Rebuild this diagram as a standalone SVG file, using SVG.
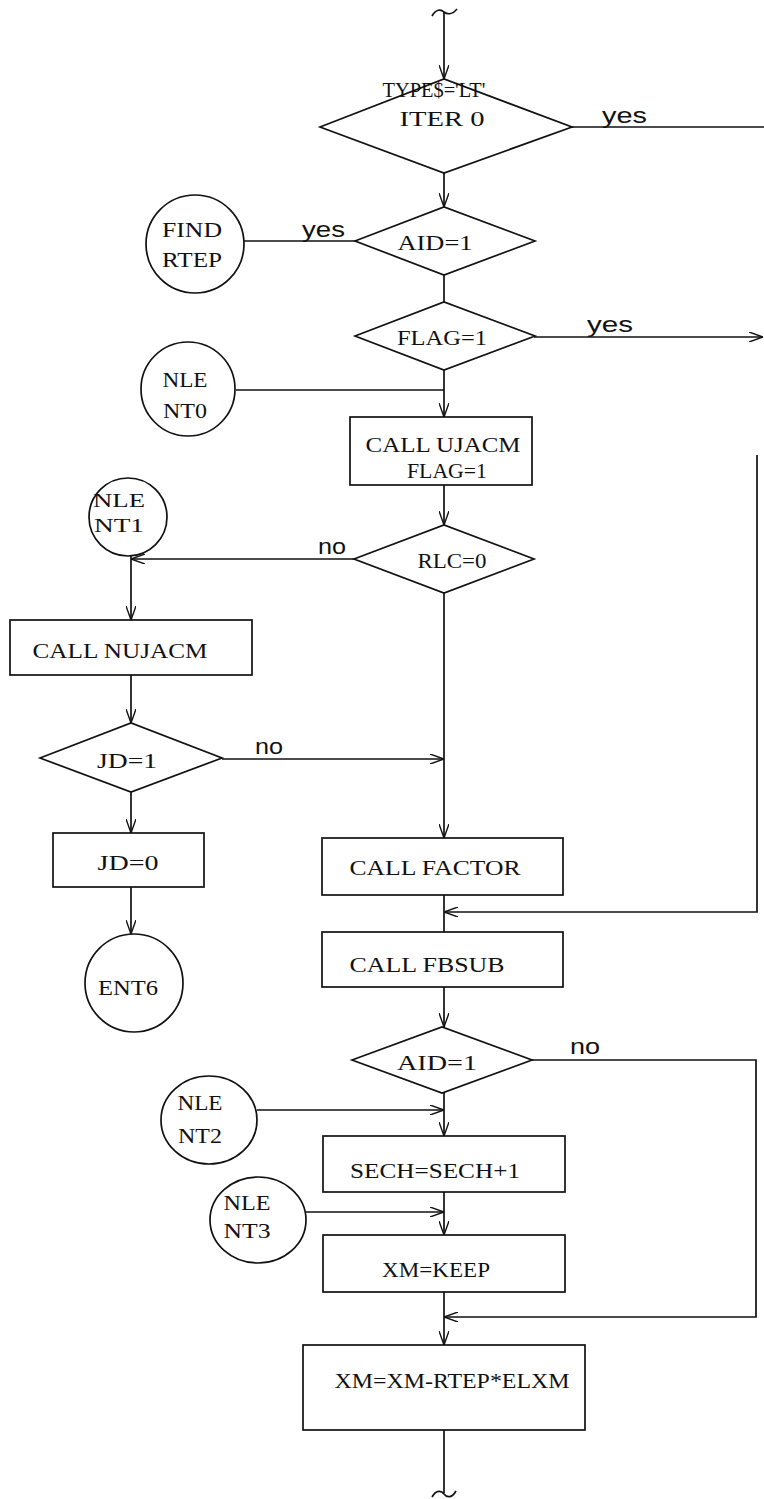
<svg xmlns="http://www.w3.org/2000/svg" width="764" height="1499" viewBox="0 0 764 1499">
<defs>
<marker id="ah" viewBox="0 0 14 10" refX="14" refY="5" markerWidth="14" markerHeight="10" markerUnits="userSpaceOnUse" orient="auto">
<path d="M0,0 L14,5 L0,10" fill="none" stroke="#111" stroke-width="1.4"/>
</marker>
</defs>
<style>
.s{fill:#fff;stroke:#111;stroke-width:1.7}
.c{fill:none;stroke:#111;stroke-width:1.7}
.a{marker-end:url(#ah)}
.t{font-family:"Liberation Serif","DejaVu Serif",serif;font-size:22px;fill:#111;text-anchor:middle}
.m{font-size:20px}
.k{font-size:19px}
.l{font-family:"Liberation Sans","DejaVu Sans",sans-serif;font-size:22px;fill:#111}
</style>
<rect width="764" height="1499" fill="#fff"/>
<g id="connectors">
<path class="c" d="M432,16 C436,9 441,9 444,12 C448,15 453,14 457,9"/>
<path class="c a" d="M444,12 V79"/>
<path class="c" d="M572,127 H764"/>
<path class="c a" d="M444,173 V207"/>
<path class="c" d="M244,241 H355"/>
<path class="c" d="M444,275 V302"/>
<path class="c a" d="M534,337 H763"/>
<path class="c a" d="M444,370 V417"/>
<path class="c" d="M236,390 H444"/>
<path class="c a" d="M444,485 V525"/>
<path class="c a" d="M354,559 H131"/>
<path class="c a" d="M131,556 V620"/>
<path class="c a" d="M131,675 V723"/>
<path class="c a" d="M222,759 H444"/>
<path class="c a" d="M131,792 V833"/>
<path class="c a" d="M131,887 V934"/>
<path class="c a" d="M444,593 V838"/>
<path class="c" d="M444,895 V932"/>
<path class="c a" d="M757,455 V912 H444"/>
<path class="c a" d="M444,987 V1027"/>
<path class="c a" d="M532,1060 H756 V1317 H444"/>
<path class="c a" d="M444,1093 V1136"/>
<path class="c a" d="M257,1110 H444"/>
<path class="c a" d="M444,1192 V1235"/>
<path class="c a" d="M306,1212 H444"/>
<path class="c a" d="M444,1292 V1345"/>
<path class="c" d="M444,1430 V1493"/>
<path class="c" d="M432,1497 C436,1490 441,1490 444,1494 C447,1498 452,1498 456,1491"/>
<text class="l" x="602" y="123" textLength="45" lengthAdjust="spacingAndGlyphs">yes</text>
<text class="l" x="302" y="237" textLength="43" lengthAdjust="spacingAndGlyphs">yes</text>
<text class="l" x="587" y="332" textLength="46" lengthAdjust="spacingAndGlyphs">yes</text>
<text class="l" x="318" y="554" textLength="28" lengthAdjust="spacingAndGlyphs">no</text>
<text class="l" x="255" y="754" textLength="28" lengthAdjust="spacingAndGlyphs">no</text>
<text class="l" x="570" y="1054" textLength="30" lengthAdjust="spacingAndGlyphs">no</text>
</g>
<g id="n_type">
<polygon class="s" points="320,127 444,79 572,127 444,173"/>
<text class="t m" x="434" y="97" textLength="103" lengthAdjust="spacingAndGlyphs">TYPE$='LT'</text>
<text class="t m" x="442" y="126" textLength="85" lengthAdjust="spacingAndGlyphs">ITER  0</text>
</g>
<g id="n_aid1">
<polygon class="s" points="355,241 444,207 535,241 444,275"/>
<text class="t" x="435" y="250" textLength="75" lengthAdjust="spacingAndGlyphs">AID=1</text>
</g>
<g id="n_findrtep">
<circle class="s" cx="195" cy="244" r="49"/>
<text class="t" x="192" y="237" textLength="60" lengthAdjust="spacingAndGlyphs">FIND</text>
<text class="t" x="192" y="267" textLength="60" lengthAdjust="spacingAndGlyphs">RTEP</text>
</g>
<g id="n_flag">
<polygon class="s" points="355,336 444,302 535,336 444,370"/>
<text class="t" x="442" y="345" textLength="90" lengthAdjust="spacingAndGlyphs">FLAG=1</text>
</g>
<g id="n_nt0">
<circle class="s" cx="188" cy="389" r="47"/>
<text class="t" x="185" y="387" textLength="45" lengthAdjust="spacingAndGlyphs">NLE</text>
<text class="t" x="185" y="418" textLength="44" lengthAdjust="spacingAndGlyphs">NT0</text>
</g>
<g id="n_ujacm">
<rect class="s" x="350" y="417" width="182" height="68"/>
<text class="t" x="443" y="452" textLength="155" lengthAdjust="spacingAndGlyphs">CALL UJACM</text>
<text class="t" x="447" y="478" textLength="80" lengthAdjust="spacingAndGlyphs">FLAG=1</text>
</g>
<g id="n_rlc">
<polygon class="s" points="354,559 444,525 534,559 444,593"/>
<text class="t" x="452" y="568" textLength="69" lengthAdjust="spacingAndGlyphs">RLC=0</text>
</g>
<g id="n_nt1">
<circle class="s" cx="128" cy="517" r="39"/>
<text class="t k" x="119" y="507" textLength="52" lengthAdjust="spacingAndGlyphs">NLE</text>
<text class="t k" x="119" y="532" textLength="50" lengthAdjust="spacingAndGlyphs">NT1</text>
</g>
<g id="n_nujacm">
<rect class="s" x="10" y="620" width="242" height="55"/>
<text class="t" x="120" y="658" textLength="175" lengthAdjust="spacingAndGlyphs">CALL NUJACM</text>
</g>
<g id="n_jd1">
<polygon class="s" points="40,758 131,723 222,758 131,792"/>
<text class="t" x="127" y="768" textLength="60" lengthAdjust="spacingAndGlyphs">JD=1</text>
</g>
<g id="n_jd0">
<rect class="s" x="53" y="833" width="151" height="54"/>
<text class="t" x="128" y="870" textLength="61" lengthAdjust="spacingAndGlyphs">JD=0</text>
</g>
<g id="n_ent6">
<circle class="s" cx="134" cy="983" r="49"/>
<text class="t" x="128" y="995" textLength="60" lengthAdjust="spacingAndGlyphs">ENT6</text>
</g>
<g id="n_factor">
<rect class="s" x="322" y="838" width="241" height="57"/>
<text class="t" x="435" y="875" textLength="171" lengthAdjust="spacingAndGlyphs">CALL FACTOR</text>
</g>
<g id="n_fbsub">
<rect class="s" x="322" y="932" width="241" height="55"/>
<text class="t" x="427" y="972" textLength="155" lengthAdjust="spacingAndGlyphs">CALL FBSUB</text>
</g>
<g id="n_aid2">
<polygon class="s" points="352,1060 442,1027 532,1060 442,1093"/>
<text class="t" x="437" y="1070" textLength="80" lengthAdjust="spacingAndGlyphs">AID=1</text>
</g>
<g id="n_nt2">
<ellipse class="s" cx="209" cy="1120" rx="48" ry="44"/>
<text class="t" x="200" y="1110" textLength="45" lengthAdjust="spacingAndGlyphs">NLE</text>
<text class="t" x="200" y="1143" textLength="44" lengthAdjust="spacingAndGlyphs">NT2</text>
</g>
<g id="n_sech">
<rect class="s" x="323" y="1136" width="242" height="56"/>
<text class="t" x="435" y="1178" textLength="170" lengthAdjust="spacingAndGlyphs">SECH=SECH+1</text>
</g>
<g id="n_nt3">
<ellipse class="s" cx="258" cy="1220" rx="48" ry="43"/>
<text class="t" x="247" y="1210" textLength="47" lengthAdjust="spacingAndGlyphs">NLE</text>
<text class="t" x="247" y="1238" textLength="47" lengthAdjust="spacingAndGlyphs">NT3</text>
</g>
<g id="n_keep">
<rect class="s" x="323" y="1235" width="242" height="57"/>
<text class="t" x="436" y="1277" textLength="108" lengthAdjust="spacingAndGlyphs">XM=KEEP</text>
</g>
<g id="n_final">
<rect class="s" x="303" y="1345" width="282" height="85"/>
<text class="t m" x="452" y="1388" textLength="235" lengthAdjust="spacingAndGlyphs">XM=XM-RTEP*ELXM</text>
</g>
</svg>
